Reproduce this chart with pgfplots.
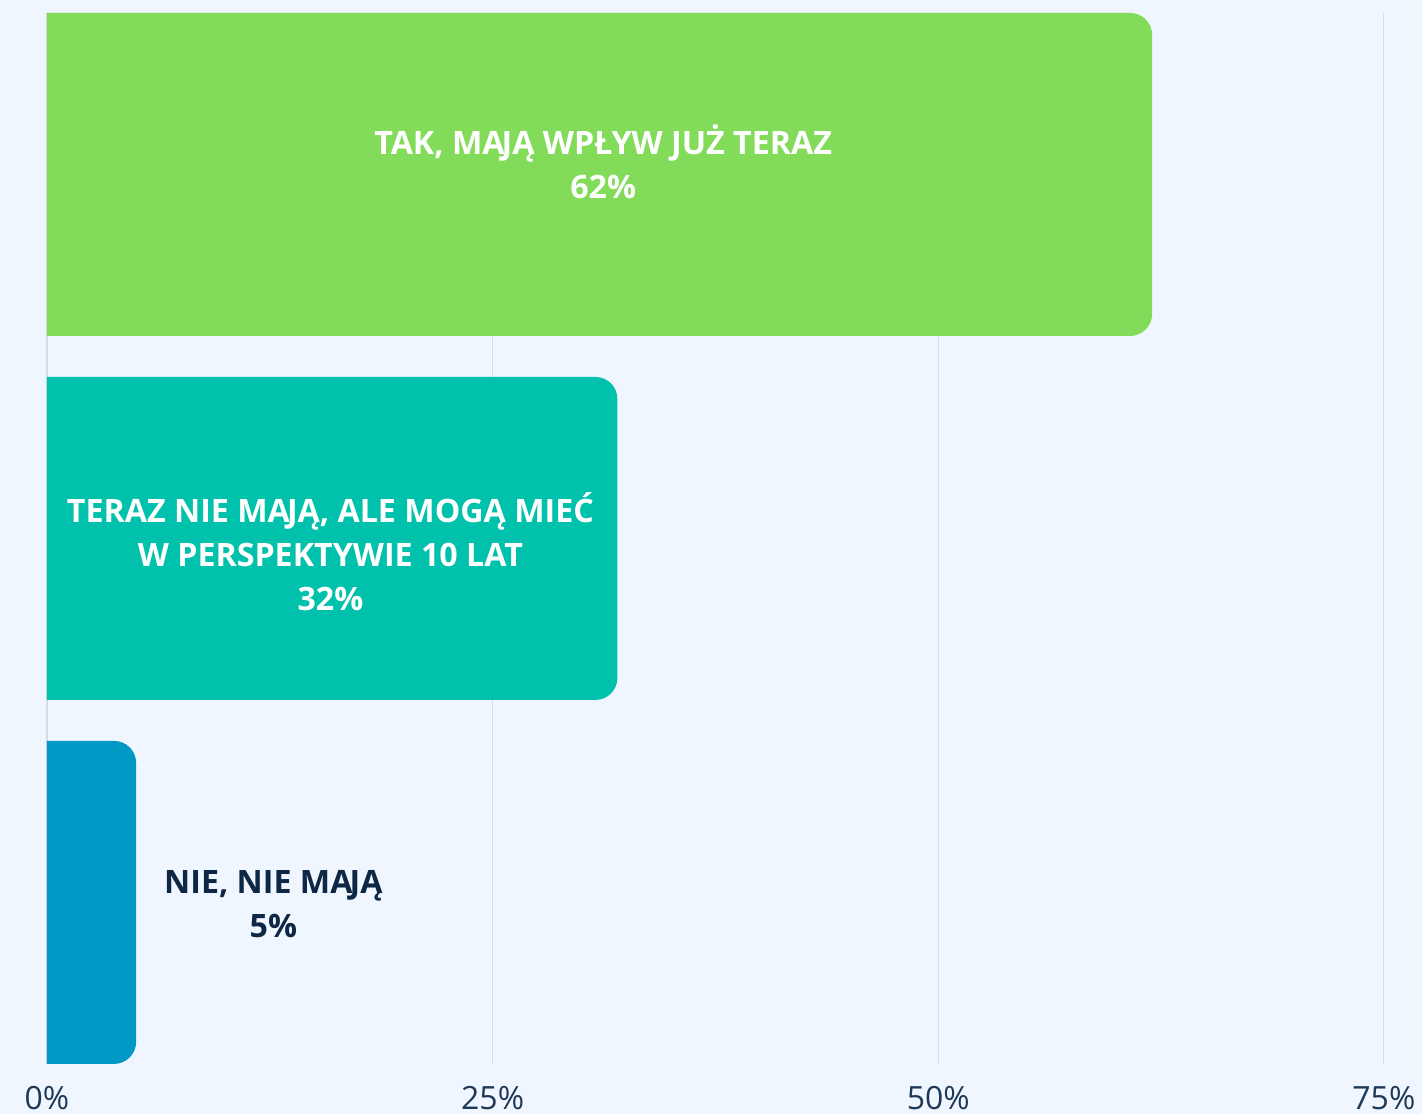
\documentclass[border=0pt]{standalone}
\usepackage{pgfplots}
\pgfplotsset{compat=1.18}
\usepackage{fontspec}
\setmainfont{Open Sans}
\usetikzlibrary{backgrounds}
\definecolor{bgc}{HTML}{EFF6FF}
\definecolor{gridc}{HTML}{D5DCE5}
\definecolor{tickc}{HTML}{1E3856}
\definecolor{darkc}{HTML}{0D2744}
\definecolor{c1}{HTML}{82DC5A}
\definecolor{c2}{HTML}{00C1AB}
\definecolor{c3}{HTML}{0099C6}
\newcommand{\AJ}{A\kern-0.09emJ}
\begin{document}
\begin{tikzpicture}
\begin{axis}[
  scale only axis, width=668.5pt, height=525.5pt,
  xmin=0, xmax=75, ymin=-0.4437, ymax=2.4437,
  axis line style={draw=none},
  ytick=\empty, xtick={0,25,50,75},
  xticklabels={0\%,25\%,50\%,75\%},
  major tick length=0pt,
  xmajorgrids, grid style={gridc, line width=0.6pt},
  xticklabel style={font=\fontsize{16}{19}\selectfont, text=tickc, anchor=base, yshift=-23pt},
  clip=true,
]
\addplot[draw=none, fill=c1, rounded corners=11pt] coordinates {(-5,1.5563) (62,1.5563) (62,2.4437) (-5,2.4437)} -- cycle;
\addplot[draw=none, fill=c2, rounded corners=11pt] coordinates {(-5,0.5563) (32,0.5563) (32,1.4437) (-5,1.4437)} -- cycle;
\addplot[draw=none, fill=c3, rounded corners=11pt] coordinates {(-5,-0.4437) (5,-0.4437) (5,0.4437) (-5,0.4437)} -- cycle;
\node[align=center, text=white, font=\fontsize{16.1}{22}\selectfont\bfseries] at (axis cs:31.2,2.035) {TAK, M\AJ Ą WPŁYW JUŻ TERAZ\\62\%};
\node[align=center, text=white, font=\fontsize{16.1}{22}\selectfont\bfseries] at (axis cs:15.9,0.965) {TERAZ NIE M\AJ Ą, ALE MOGĄ MIEĆ\\W PERSPEKTYWIE 10 LAT\\32\%};
\node[align=center, text=darkc, font=\fontsize{16.1}{22}\selectfont\bfseries] at (axis cs:12.7,-0.005) {NIE, NIE M\AJ Ą\\5\%};
\end{axis}
\begin{scope}[on background layer]
\fill[bgc] ([shift={(-23.5pt,-25pt)}]current axis.south west) rectangle ([shift={(19pt,6.5pt)}]current axis.north east);
\end{scope}
\end{tikzpicture}
\end{document}
